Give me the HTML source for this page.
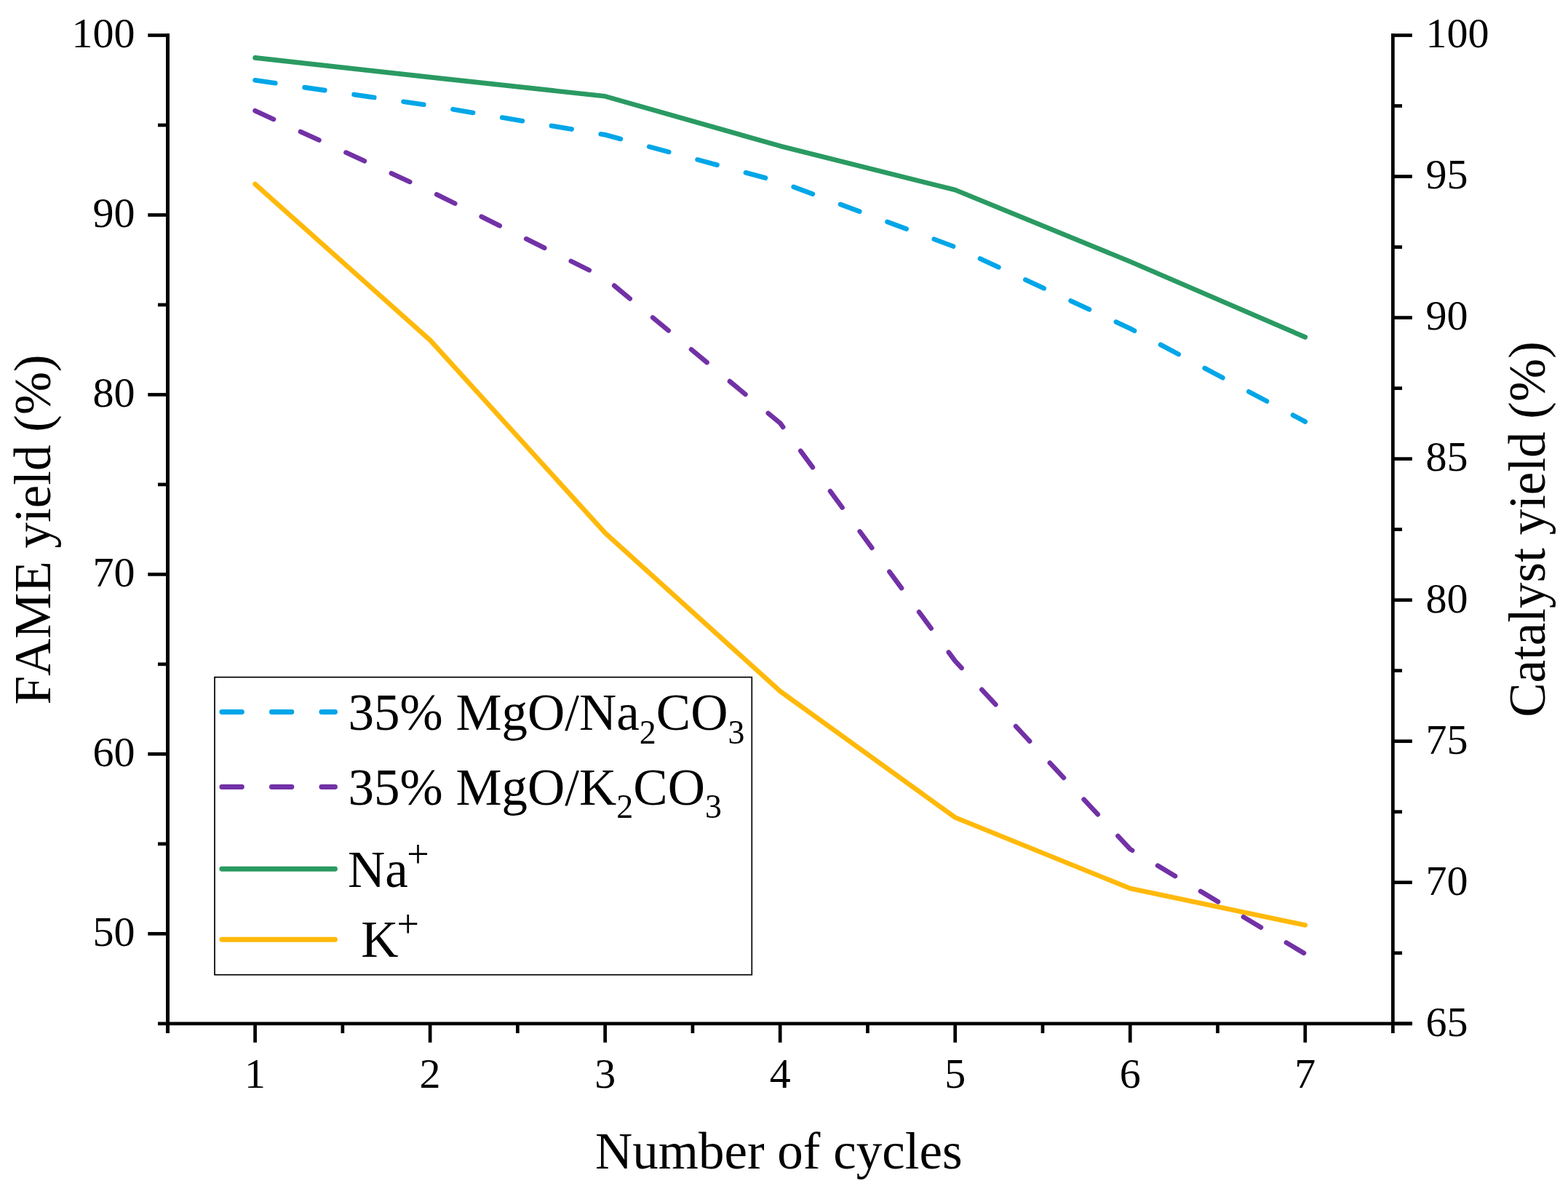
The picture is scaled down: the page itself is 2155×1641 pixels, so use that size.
<!DOCTYPE html><html><head><meta charset="utf-8"><title>FAME yield vs number of cycles</title>
<style>html,body{margin:0;padding:0;background:#fff;}svg{display:block;}</style></head><body>
<svg width="2155" height="1641" viewBox="0 0 2155 1641" font-family="'Liberation Serif','Times New Roman',serif" style="font-kerning:none">
<rect width="2155" height="1641" fill="#fff"/>
<g fill="none" stroke-width="6.6" stroke-linecap="round" stroke-linejoin="round">
<polyline points="350.6,79.4 591.1,106.1 831.7,132.3 1072.2,200.7 1312.7,261.0 1553.2,359.5 1793.8,463.4" stroke="#2A9A62"/>
<polyline points="350.6,253.0 591.1,467.5 831.7,732.5 1072.2,950.0 1312.7,1123.5 1553.2,1221.0 1793.8,1271.5" stroke="#FFB90A"/>
<polyline points="350.6,110.3 591.1,145.0 831.7,185.3 1072.2,250.0 1312.7,339.5 1553.2,451.5 1793.8,579.5" stroke="#00A6E8" stroke-dasharray="28 40.7"/>
<polyline points="350.6,152.2 591.1,262.7 831.7,382.2 1072.2,581.5 1312.7,908.5 1553.2,1167.0 1793.8,1311.0" stroke="#7231A6" stroke-dasharray="28 40.7"/>
</g>
<g fill="#000">
<rect x="228" y="46" width="5.0" height="1374"/>
<rect x="1912" y="46" width="4.7" height="1374"/>
<rect x="217" y="1404.5" width="1723.8" height="4.7"/>
<rect x="203.3" y="1280.95" width="25" height="4.7"/>
<rect x="203.3" y="1033.99" width="25" height="4.7"/>
<rect x="203.3" y="787.03" width="25" height="4.7"/>
<rect x="203.3" y="540.07" width="25" height="4.7"/>
<rect x="203.3" y="293.11" width="25" height="4.7"/>
<rect x="203.3" y="46.15" width="25" height="4.7"/>
<rect x="217" y="1157.47" width="11" height="4.7"/>
<rect x="217" y="910.51" width="11" height="4.7"/>
<rect x="217" y="663.55" width="11" height="4.7"/>
<rect x="217" y="416.59" width="11" height="4.7"/>
<rect x="217" y="169.63" width="11" height="4.7"/>
<rect x="1916" y="1404.46" width="24.8" height="4.7"/>
<rect x="1916" y="1210.42" width="24.8" height="4.7"/>
<rect x="1916" y="1016.37" width="24.8" height="4.7"/>
<rect x="1916" y="822.33" width="24.8" height="4.7"/>
<rect x="1916" y="628.28" width="24.8" height="4.7"/>
<rect x="1916" y="434.24" width="24.8" height="4.7"/>
<rect x="1916" y="240.19" width="24.8" height="4.7"/>
<rect x="1916" y="46.15" width="24.8" height="4.7"/>
<rect x="1916" y="1307.44" width="11" height="4.7"/>
<rect x="1916" y="1113.40" width="11" height="4.7"/>
<rect x="1916" y="919.35" width="11" height="4.7"/>
<rect x="1916" y="725.31" width="11" height="4.7"/>
<rect x="1916" y="531.26" width="11" height="4.7"/>
<rect x="1916" y="337.22" width="11" height="4.7"/>
<rect x="1916" y="143.17" width="11" height="4.7"/>
<rect x="348.25" y="1408" width="4.7" height="24.8"/>
<rect x="588.78" y="1408" width="4.7" height="24.8"/>
<rect x="829.31" y="1408" width="4.7" height="24.8"/>
<rect x="1069.84" y="1408" width="4.7" height="24.8"/>
<rect x="1310.37" y="1408" width="4.7" height="24.8"/>
<rect x="1550.90" y="1408" width="4.7" height="24.8"/>
<rect x="1791.43" y="1408" width="4.7" height="24.8"/>
<rect x="468.51" y="1408" width="4.7" height="12"/>
<rect x="709.04" y="1408" width="4.7" height="12"/>
<rect x="949.58" y="1408" width="4.7" height="12"/>
<rect x="1190.11" y="1408" width="4.7" height="12"/>
<rect x="1430.64" y="1408" width="4.7" height="12"/>
<rect x="1671.16" y="1408" width="4.7" height="12"/>
</g>
<g font-size="58" fill="#000">
<text x="185.4" y="1299.8" text-anchor="end">50</text>
<text x="185.4" y="1052.8" text-anchor="end">60</text>
<text x="185.4" y="805.9" text-anchor="end">70</text>
<text x="185.4" y="558.9" text-anchor="end">80</text>
<text x="185.4" y="312.0" text-anchor="end">90</text>
<text x="185.4" y="65.0" text-anchor="end">100</text>
<text x="1959.5" y="1423.6">65</text>
<text x="1959.5" y="1229.6">70</text>
<text x="1959.5" y="1035.5">75</text>
<text x="1959.5" y="841.5">80</text>
<text x="1959.5" y="647.4">85</text>
<text x="1959.5" y="453.4">90</text>
<text x="1959.5" y="259.3">95</text>
<text x="1959.5" y="65.3">100</text>
<text x="350.6" y="1495" text-anchor="middle">1</text>
<text x="591.1" y="1495" text-anchor="middle">2</text>
<text x="831.7" y="1495" text-anchor="middle">3</text>
<text x="1072.2" y="1495" text-anchor="middle">4</text>
<text x="1312.7" y="1495" text-anchor="middle">5</text>
<text x="1553.2" y="1495" text-anchor="middle">6</text>
<text x="1793.8" y="1495" text-anchor="middle">7</text>
</g>
<g font-size="71" fill="#000">
<text x="817.9" y="1605.6">Number of cycles</text>
<text transform="translate(69,968.4) rotate(-90)">FAME yield (%)</text>
<text transform="translate(2123.3,985.8) rotate(-90)">Catalyst yield (%)</text>
</g>
<rect x="295" y="930.7" width="738.3" height="409" fill="none" stroke="#000" stroke-width="1.7"/>
<g fill="none" stroke-width="6.8999999999999995" stroke-linecap="round">
<line x1="304.9" y1="978.5" x2="460.5" y2="978.5" stroke="#00A6E8" stroke-dasharray="27.5 41"/>
<line x1="304.9" y1="1081.5" x2="460.5" y2="1081.5" stroke="#7231A6" stroke-dasharray="27.5 41"/>
<line x1="304.9" y1="1194.3" x2="460.5" y2="1194.3" stroke="#2A9A62"/>
<line x1="304.9" y1="1291.2" x2="460.5" y2="1291.2" stroke="#FFB90A"/>
</g>
<g font-size="71" fill="#000">
<text x="478.5" y="1003">35% MgO/Na<tspan font-size="46" dy="18.5">2</tspan><tspan dy="-18.5">CO</tspan><tspan font-size="46" dy="18.5">3</tspan></text>
<text x="478.5" y="1105.5">35% MgO/K<tspan font-size="46" dy="18.5">2</tspan><tspan dy="-18.5">CO</tspan><tspan font-size="46" dy="18.5">3</tspan></text>
<text x="478" y="1219">Na<tspan font-size="54" dx="-1.5" dy="-27.1">+</tspan></text>
<text x="478.5" y="1315" xml:space="preserve" style="white-space:pre"> K<tspan font-size="54" dx="-2" dy="-26.7">+</tspan></text>
</g>
</svg></body></html>
